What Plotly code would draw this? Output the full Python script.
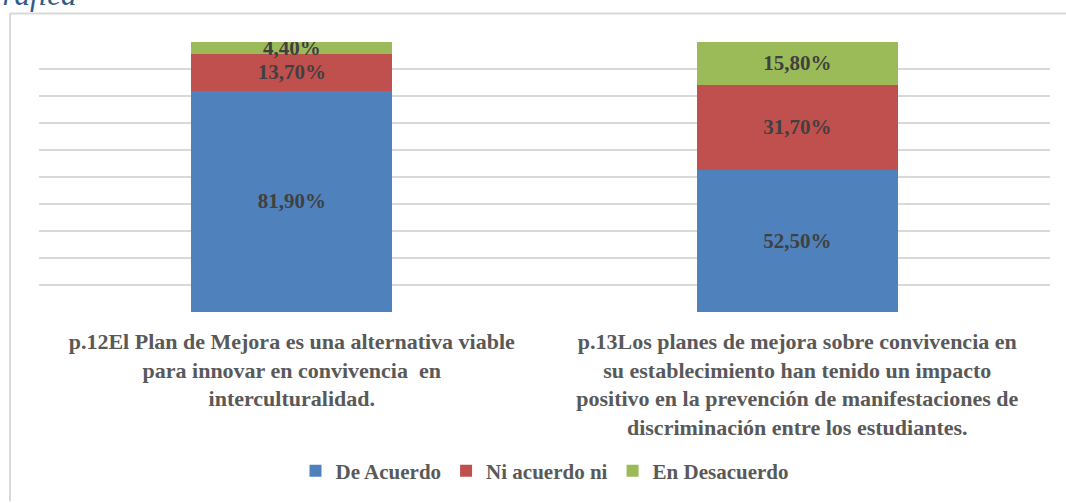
import plotly.graph_objects as go

categories = [
    "p.12El Plan de Mejora es una alternativa viable<br>para innovar en convivencia  en<br>interculturalidad.",
    "p.13Los planes de mejora sobre convivencia en<br>su establecimiento han tenido un impacto<br>positivo en la prevención de manifestaciones de<br>discriminación entre los estudiantes.",
]
series_names = ["De Acuerdo", "Ni acuerdo ni", "En Desacuerdo"]
de_acuerdo = [81.9, 52.5]
ni_acuerdo = [13.7, 31.7]
en_desacuerdo = [4.4, 15.8]
colors = ["#4F81BD", "#C0504D", "#9BBB59"]

SERIF = "'Liberation Serif', 'Times New Roman', Times, serif"

W, H = 1066, 503
L, R, T, B = 39, 16, 42, 186
pw, ph = W - L - R, H - T - B

def px_x(px):
    return (px - L) / pw

def px_y(py):
    return (H - B - py) / ph

fig = go.Figure()
for name, vals, col in zip(series_names, [de_acuerdo, ni_acuerdo, en_desacuerdo], colors):
    fig.add_trace(go.Bar(
        x=categories, y=vals, name=name,
        marker=dict(color=col, line=dict(width=0)),
        texttemplate="%{y:.2f}%",
        textposition="inside",
        insidetextanchor="middle",
        constraintext="none",
        textangle=0,
        textfont=dict(family=SERIF, size=21, color="#404040", weight="bold"),
        hoverinfo="skip",
    ))

fig.update_layout(
    barmode="stack",
    bargap=0.603,
    width=W, height=H,
    margin=dict(l=L, r=R, t=T, b=B),
    paper_bgcolor="white",
    plot_bgcolor="white",
    separators=",.",
    font=dict(family=SERIF, color="#595959"),
    showlegend=True,
    legend=dict(
        orientation="h", x=0.5, xanchor="center", y=px_y(479), yanchor="middle",
        font=dict(family=SERIF, size=21, color="#595959", weight="bold"),
        traceorder="normal",
        itemclick=False,
    ),
    xaxis=dict(
        showgrid=False, zeroline=False, showline=False, ticks="",
        tickfont=dict(family=SERIF, size=22, color="#595959", weight="bold"),
        ticklabelstandoff=14,
    ),
    yaxis=dict(
        range=[0, 100], dtick=10, showgrid=True, gridcolor="#D9D9D9", gridwidth=1.5,
        zeroline=False, showticklabels=False, ticks="", showline=False,
    ),
)

# outer chart border (left and top edges visible)
fig.add_shape(type="line", xref="paper", yref="paper",
              x0=px_x(10), x1=px_x(1070), y0=px_y(13), y1=px_y(13),
              line=dict(color="#D9D9D9", width=2))
fig.add_shape(type="line", xref="paper", yref="paper",
              x0=px_x(10), x1=px_x(10), y0=px_y(13), y1=px_y(510),
              line=dict(color="#D9D9D9", width=2))

# cut-off heading above the chart
fig.add_annotation(text="Gráfica", xref="paper", yref="paper",
                   x=px_x(-22), y=px_y(-6), xanchor="left", yanchor="middle",
                   showarrow=False,
                   font=dict(family=SERIF, size=31, color="#2E5C8A", style="italic"))

fig.write_html("out.html")
